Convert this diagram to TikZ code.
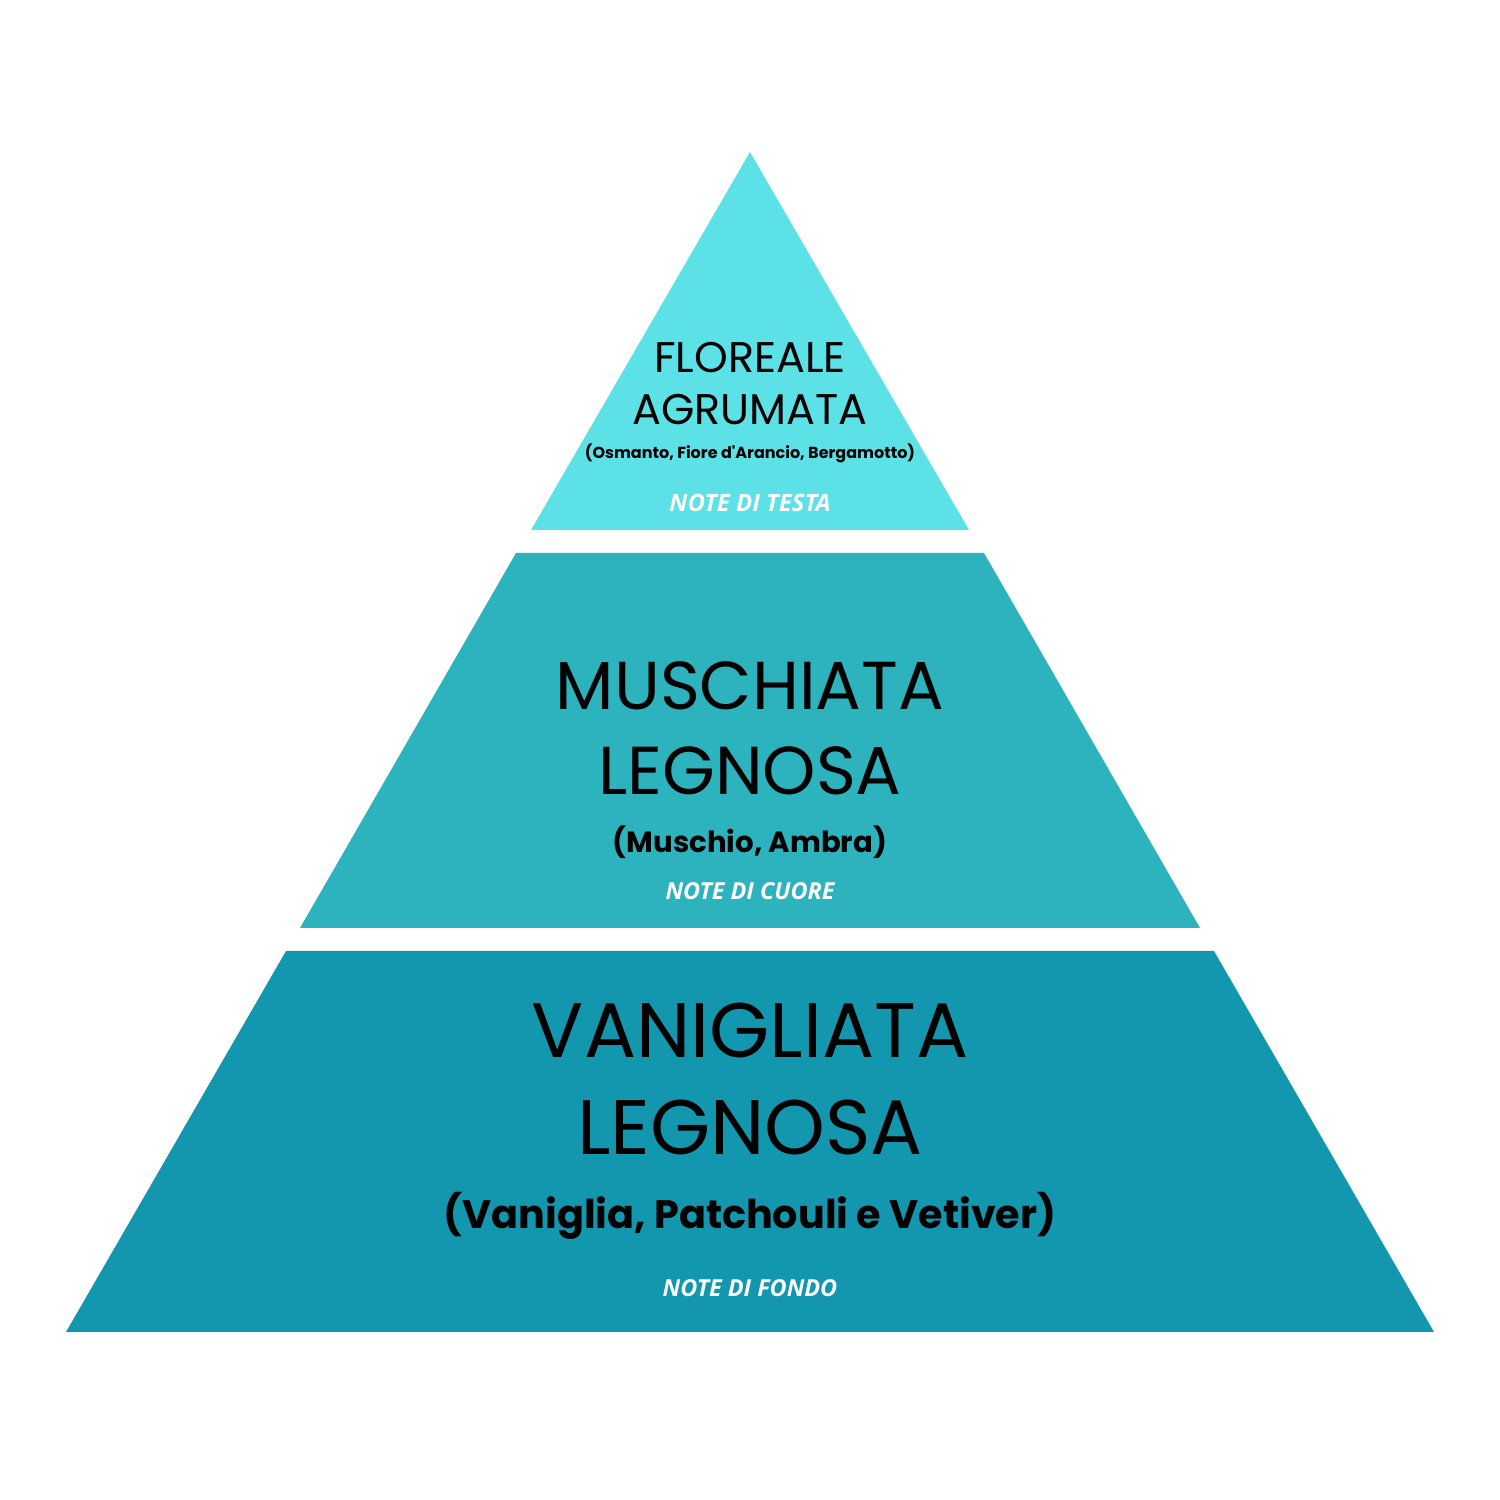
\documentclass[tikz,border=0pt]{standalone}
\usepackage{fontspec}
\setmainfont{Poppins}
\newfontfamily\notefont{Open Sans}
\definecolor{testa}{HTML}{5CE1E6}
\definecolor{cuore}{HTML}{2CB3BE}
\definecolor{fondo}{HTML}{1397AE}
\tikzset{
  tier/.style={draw=none},
  famiglia/.style={inner sep=0pt, align=center, text=black},
  elenco/.style={inner sep=0pt, font=\bfseries, text=black},
  nota/.style={inner sep=0pt, text=white, font=\notefont\bfseries\itshape}
}
\begin{document}
\begin{tikzpicture}
\useasboundingbox (0,0) rectangle (15,15);
\fill[testa] (7.5,13.48) -- (5.31,9.70) -- (9.69,9.70) -- cycle;
\fill[cuore] (5.16,9.47) -- (3.00,5.72) -- (12.00,5.72) -- (9.84,9.47) -- cycle;
\fill[fondo] (2.86,5.49) -- (0.66,1.68) -- (14.34,1.68) -- (12.14,5.49) -- cycle;
% testa
\node[famiglia, font=\fontsize{12.2}{14}\selectfont] (floreale) at (7.5,11.42) {FLOREALE};
\node[famiglia, font=\fontsize{12.2}{14}\selectfont] (agrumata) at (7.5,10.90) {AGRUMATA};
\node[elenco, font=\fontsize{4.55}{6}\selectfont\bfseries] (osmanto) at (7.5,10.47) {(Osmanto, Fiore d\textquotesingle Arancio, Bergamotto)};
\node[nota, font=\fontsize{6.8}{9}\selectfont\notefont\bfseries\itshape] (testa) at (7.5,9.97) {NOTE DI TESTA};
% cuore
\node[famiglia, font=\fontsize{19.3}{24}\selectfont] (muschiata) at (7.5,8.14) {MUSCHIATA};
\node[famiglia, font=\fontsize{19.3}{24}\selectfont] (legnosaA) at (7.5,7.29) {LEGNOSA};
\node[elenco, font=\fontsize{8.3}{12}\selectfont\bfseries] (muschio) at (7.5,6.58) {(Muschio, Ambra)};
\node[nota, font=\fontsize{6.65}{9}\selectfont\notefont\bfseries\itshape] (cuore) at (7.5,6.09) {NOTE DI CUORE};
% fondo
\node[famiglia, font=\fontsize{22}{28}\selectfont] (vanigliata) at (7.5,4.70) {VANIGLIATA};
\node[famiglia, font=\fontsize{22}{28}\selectfont] (legnosaB) at (7.5,3.73) {LEGNOSA};
\node[elenco, font=\fontsize{11.3}{16}\selectfont\bfseries] (vaniglia) at (7.5,2.84) {(Vaniglia, Patchouli e Vetiver)};
\node[nota, font=\fontsize{6.65}{9}\selectfont\notefont\bfseries\itshape] (fondo) at (7.5,2.12) {NOTE DI FONDO};
\end{tikzpicture}
\end{document}
